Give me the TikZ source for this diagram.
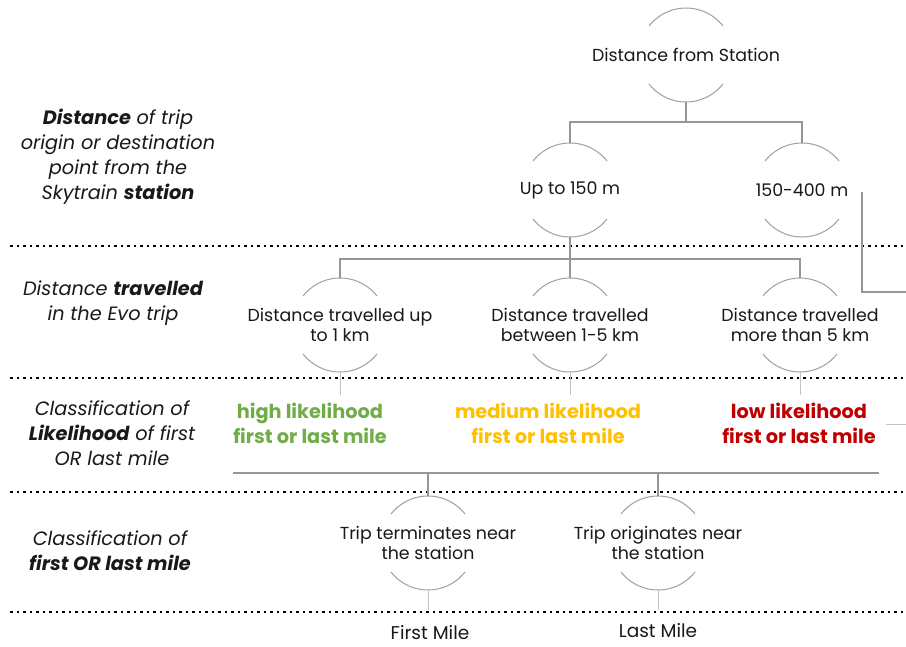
\documentclass[tikz,border=0pt]{standalone}
\usepackage{fontspec}
\setmainfont{Poppins}
\definecolor{arcgray}{RGB}{160,160,160}
\definecolor{conngray}{RGB}{150,150,150}
\definecolor{lightgray2}{RGB}{195,195,195}
\definecolor{txt}{RGB}{25,25,25}
\definecolor{hgreen}{RGB}{112,173,71}
\definecolor{hgold}{RGB}{255,192,0}
\definecolor{hred}{RGB}{192,0,0}
\newcommand\ringarcs[1]{%
  \draw[arcline] (#1.38) arc[start angle=38,end angle=142,radius=47pt];
  \draw[arcline] (#1.218) arc[start angle=218,end angle=322,radius=47pt];}
\begin{document}
\begin{tikzpicture}[x=1pt,y=1pt,
  dots/.style={line width=2.8pt, dash pattern=on 2.8pt off 3.7pt, black},
  arcline/.style={draw=arcgray, line width=1pt},
  conn/.style={draw=conngray, line width=1.1pt},
  lconn/.style={draw=lightgray2, line width=1pt},
  ring/.style={circle, minimum size=94pt, inner sep=0pt, outer sep=0pt},
  lbl/.style={font=\fontsize{17.4}{20}\selectfont, text=txt, align=center, inner sep=0pt},
  side/.style={font=\fontsize{19.3}{25}\selectfont\itshape, text=txt, align=center, inner sep=0pt},
  likely/.style={font=\fontsize{19.3}{25}\selectfont\bfseries, align=center, inner sep=0pt}]
\useasboundingbox[fill=white] (0,0) rectangle (906,-646);
% dotted separators
\foreach \yy in {246,378,492,612}{
  \draw[dots] (10,-\yy) -- (906,-\yy);}
% rings
\node[ring] (n0) at (686,-55) {};
\node[ring] (n1) at (570,-190) {};
\node[ring] (n2) at (802,-190) {};
\node[ring] (m1) at (340,-325) {};
\node[ring] (m2) at (570,-325) {};
\node[ring] (m3) at (800,-325) {};
\node[ring] (r1) at (428,-543) {};
\node[ring] (r2) at (658,-543) {};
\foreach \n in {n0,n1,n2,m1,m2,m3,r1,r2}{\ringarcs{\n}}
% texts
\node[lbl] (t0) at (n0) {Distance from Station};
\node[lbl] (t1) at (n1) {Up to 150 m};
\node[lbl] (t2) at (n2) {150-400 m};
\node[lbl] (u1) at (m1) {Distance travelled up\\to 1 km};
\node[lbl] (u2) at (m2) {Distance travelled\\between 1-5 km};
\node[lbl] (u3) at (m3) {Distance travelled\\more than 5 km};
\node[lbl] (v1) at (r1) {Trip terminates near\\the station};
\node[lbl] (v2) at (r2) {Trip originates near\\the station};
\node[likely, text=hgreen] (l1) at (310,-423) {high likelihood\\first or last mile};
\node[likely, text=hgold] (l2) at (548,-423) {medium likelihood\\first or last mile};
\node[likely, text=hred] (l3) at (799,-423) {low likelihood\\first or last mile};
\node[lbl, font=\fontsize{18.5}{20}\selectfont] (f1) at (430,-633) {First Mile};
\node[lbl, font=\fontsize{18.5}{20}\selectfont] (f2) at (658,-631) {Last Mile};
% side labels
\node[side] (a1) at (118,-157) {\textbf{Distance} of trip\\origin or destination\\point from the\\Skytrain \textbf{station}};
\node[side] (a2) at (113,-303) {Distance \textbf{travelled}\\in the Evo trip};
\node[side] (a3) at (112,-433) {Classification of\\\textbf{Likelihood} of first\\OR last mile};
\node[side] (a4) at (110,-551) {Classification of\\\textbf{first OR last mile}};
% connectors
\draw[conn] (n0.south) -- ++(0,-20) -| (n1.north);
\draw[conn] (n0.south) -- ++(0,-20) -| (n2.north);
\draw[conn] (n1.south) -- ++(0,-22) -| (m1.north);
\draw[conn] (n1.south) -- ++(0,-22) -| (m2.north);
\draw[conn] (n1.south) -- ++(0,-22) -| (m3.north);
\coordinate (d1) at (340,-395);
\coordinate (d2) at (570,-395);
\coordinate (d3) at (800,-395);
\draw[lconn] (m1.south) -- (d1);
\draw[lconn] (m2.south) -- (d2);
\draw[lconn] (m3.south) -- (d3);
\coordinate (h1) at (233,-473);
\coordinate (h2) at (879,-473);
\draw[conn] (h1) -- (h2);
\draw[conn] (r1.north |- h1) -- (r1.north);
\draw[conn] (r2.north |- h1) -- (r2.north);
\coordinate (e1) at (428,-610);
\coordinate (e2) at (658,-610);
\draw[lconn] (r1.south) -- (e1);
\draw[lconn] (r2.south) -- (e2);
% right side fragments
\coordinate (s1) at (862,-192);
\coordinate (s2) at (906,-292);
\draw[conn] (s1) |- (s2);
\coordinate (s3) at (886,-424);
\coordinate (s4) at (906,-424);
\draw[lconn] (s3) -- (s4);
\end{tikzpicture}
\end{document}
